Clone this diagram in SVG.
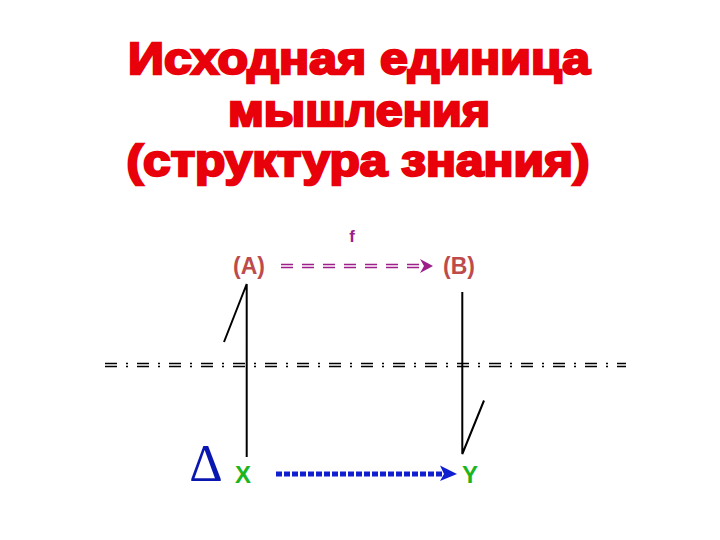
<svg xmlns="http://www.w3.org/2000/svg" width="720" height="540" viewBox="0 0 720 540">
<style>
.title{font-family:"Liberation Sans",Arial,sans-serif;font-weight:bold;font-size:44px;fill:#E8000B;stroke:#E8000B;stroke-width:2.4px;text-anchor:middle}
.lab{font-family:"Liberation Sans",Arial,sans-serif;font-weight:bold;font-size:23px;fill:#BD4B4B;text-anchor:middle}
.xy{font-family:"Liberation Sans",Arial,sans-serif;font-weight:bold;font-size:24px;fill:#1DB51D;text-anchor:middle}
.blk{stroke:#000;stroke-width:2;fill:none}
.axis{stroke:#000;stroke-width:1.3;stroke-dasharray:12 9 2 9;fill:none}
</style>
<rect width="720" height="540" fill="#fff"/>
<g id="title">
<text class="title" x="359" y="74" textLength="462" lengthAdjust="spacingAndGlyphs">Исходная единица</text>
<text class="title" x="359" y="126" textLength="262" lengthAdjust="spacingAndGlyphs">мышления</text>
<text class="title" x="358" y="176" textLength="463" lengthAdjust="spacingAndGlyphs">(структура знания)</text>
</g>
<g id="axis">
<line class="axis" x1="105" y1="363.5" x2="626" y2="363.5"/>
<line class="axis" x1="105" y1="366.5" x2="626" y2="366.5"/>
</g>
<g id="nodeA">
<text class="lab" x="249" y="274">(A)</text>
</g>
<g id="nodeB">
<text class="lab" x="459" y="274">(B)</text>
</g>
<g id="labelF">
<text x="352" y="242" font-family="Liberation Sans,Arial,sans-serif" font-weight="bold" font-size="17" fill="#9E1E8C" text-anchor="middle">f</text>
</g>
<g id="nodeDelta">
<text x="206" y="481" font-family="Liberation Serif,Times New Roman,serif" font-size="52" fill="#0A16B0" text-anchor="middle">Δ</text>
</g>
<g id="nodeX">
<text class="xy" x="243" y="483">X</text>
</g>
<g id="nodeY">
<text class="xy" x="470" y="483">Y</text>
</g>
<g id="connectors">
<polyline class="blk" points="224,342 246.7,284 246.7,457"/>
<polyline class="blk" points="462.3,292 462.3,454 484,400.5"/>
<g stroke="#9E1E8C" stroke-width="1.6" fill="none">
<line x1="281" y1="264.5" x2="424" y2="264.5" stroke-dasharray="12 9"/>
<line x1="281" y1="267.5" x2="424" y2="267.5" stroke-dasharray="12 9"/>
</g>
<path d="M420,259 L433,266 L420,273 L424,266 Z" fill="#9E1E8C"/>
<line x1="276" y1="474" x2="445" y2="474" stroke="#1020D0" stroke-width="5" stroke-dasharray="6 2"/>
<path d="M440,465.5 L457,474 L440,481 L444,474 Z" fill="#1020D0"/>
</g>
</svg>
